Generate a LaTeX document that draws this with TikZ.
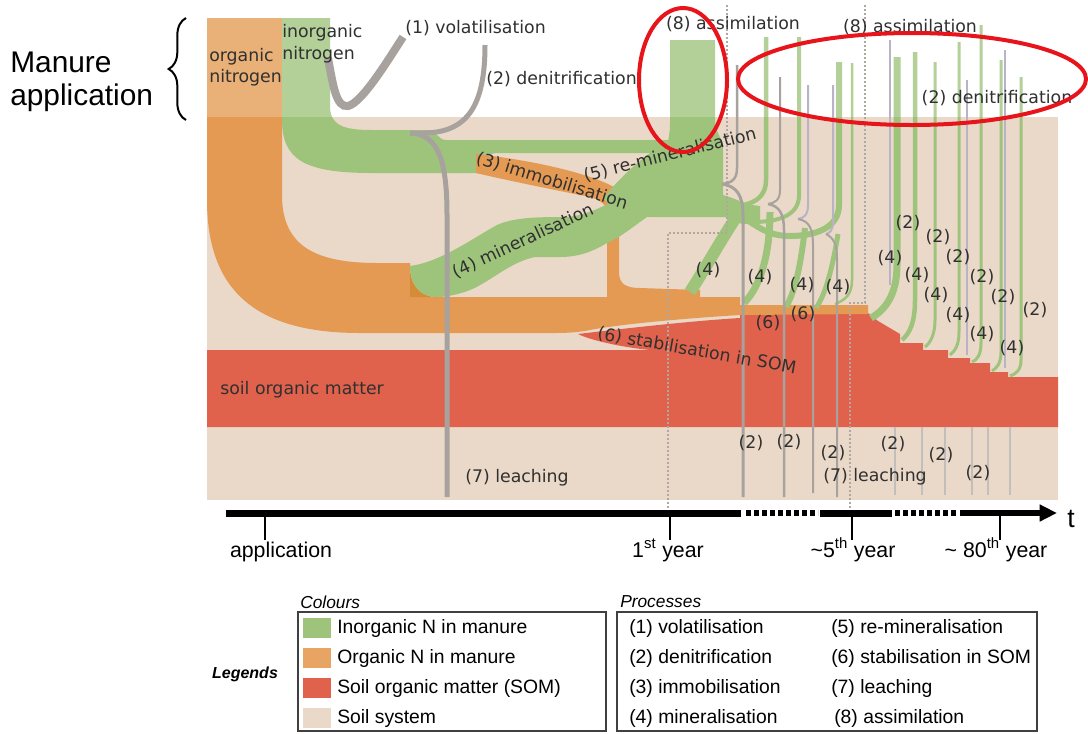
\documentclass[tikz,border=0pt]{standalone}
\usepackage{fontspec}
\newfontfamily\djv{DejaVu Sans}
\newfontfamily\arl{Liberation Sans}
\usetikzlibrary{arrows.meta,decorations.pathreplacing}
\definecolor{soil}{HTML}{EAD9C8}
\definecolor{grn}{HTML}{9EC47C}
\definecolor{org}{HTML}{E49A52}
\definecolor{orgd}{HTML}{D68B36}
\definecolor{som}{HTML}{E0624C}
\definecolor{gln}{HTML}{A8A29E}
\definecolor{lav}{HTML}{B9B3C6}
\definecolor{txt}{HTML}{303030}
\definecolor{ell}{HTML}{E8141C}
\definecolor{dotc}{HTML}{B0A8A0}
\newcommand\lblfont{\djv\fontsize{13}{15}\selectfont}
\newcommand\lgfont{\arl\fontsize{14.5}{17}\selectfont}
\begin{document}
\begin{tikzpicture}[x=0.75pt,y=-0.75pt,
  lw/.style={line width=#1*0.75pt},
  lbl/.style={font=\lblfont, text=txt, inner sep=0pt},
  gs/.style={draw=grn, line cap=butt},
  gl/.style={draw=gln, line cap=butt},
  thn/.style={draw=lav, lw=2},
  faint/.style={draw=gln!70, lw=1.3},
  dotl/.style={draw=dotc, lw=1.2, dash pattern=on 1.5pt off 1.5pt},
  lgt/.style={font=\lgfont, text=black, inner sep=0pt, anchor=west},
  tl/.style={font=\arl\fontsize{16}{18}\selectfont, inner sep=0pt, anchor=base},
]
\useasboundingbox (0,0) rectangle (1088,733);
\fill[white] (0,0) rectangle (1088,733);
\fill[soil] (207,117) rectangle (1058,500);

% soil organic matter
\fill[som] (207,350) -- (650,350) .. controls (620,347) and (590,340) .. (578,334)
  .. controls (620,329) and (690,321) .. (740,318) -- (740,313) -- (868,313) -- (878,321) -- (900,334)
  -- (900,343) -- (923,343) -- (923,350) -- (948,350) -- (948,358) -- (970,358) -- (970,363)
  -- (990,363) -- (990,372) -- (1008,372) -- (1008,377) -- (1058,377) -- (1058,427) -- (207,427) -- cycle;

% organic N
\fill[org] (207,18) -- (282,18) -- (282,195) .. controls (282,248) and (318,263) .. (378,263) -- (410,263)
  -- (410,297) -- (740,297) -- (740,305) -- (868,305) -- (868,314) -- (740,315)
  .. controls (690,318) and (620,324) .. (590,330) .. controls (580,332) and (570,333) .. (555,333)
  -- (360,333) .. controls (255,333) and (207,290) .. (207,200) -- cycle;

% inorganic N
\fill[grn] (282,18) -- (330,18) -- (330,108) .. controls (331,126) and (345,130) .. (372,130) -- (428,130)
  .. controls (436,130) and (438,140) .. (446,140) -- (672,140) -- (672,153) -- (500,153)
  .. controls (490,153) and (482,156) .. (478,160) -- (478,173) -- (372,173)
  .. controls (305,173) and (282,160) .. (282,120) -- cycle;

% immobilisation
\fill[org] (476,154) .. controls (530,160) and (585,172) .. (612,186) .. controls (617,189) and (619,194) .. (619,202)
  -- (619,272) .. controls (619,284) and (626,288) .. (640,288) -- (700,290) -- (700,299) -- (607,299)
  -- (607,212) .. controls (607,205) and (600,200) .. (590,197) .. controls (555,190) and (510,181) .. (476,173) -- cycle;

% mineralisation
\fill[orgd] (410,263) -- (410,297) -- (437,297) .. controls (420,297) and (410,285) .. (410,266) -- cycle;
\fill[grn] (410,266) .. controls (440,262) and (470,240) .. (497,225) .. controls (515,217) and (540,217) .. (567,217)
  .. controls (590,215) and (620,200) .. (645,180) -- (650,215) .. controls (635,225) and (620,238) .. (607,243)
  .. controls (592,252) and (578,257) .. (560,257) -- (535,257) .. controls (510,262) and (490,282) .. (470,290)
  .. controls (455,296) and (442,297) .. (437,297) .. controls (420,297) and (410,285) .. (410,266) -- cycle;

% junction and assimilation column
\fill[grn] (603,198) .. controls (625,172) and (648,152) .. (668,142) .. controls (670,130) .. (670,118)
  -- (670,40) -- (715,40) -- (715,122) .. controls (716,134) and (723,138) .. (723,150) -- (723,195)
  .. controls (735,198) and (745,205) .. (760,206) -- (760,222) .. controls (745,222) and (735,218) .. (723,217)
  -- (650,217) .. controls (635,217) and (622,214) .. (612,208) -- cycle;

% stems of the first years
\draw[gs, lw=4.5] (766,37) -- (766,180) .. controls (766,200) and (750,207) .. (722,207);
\draw[gs, lw=4] (799,37) -- (799,195) .. controls (799,215) and (780,222) .. (752,222) .. controls (738,222) .. (725,212);
\draw[gs, lw=6] (839,62) -- (839,205) .. controls (839,228) and (815,236) .. (790,236) .. controls (770,236) and (760,228) .. (750,222);
\draw[gs, lw=2.5] (852,63) -- (852,280) .. controls (852,295) and (845,300) .. (835,304);
% (4) branches
\draw[gs, lw=12] (738,214) .. controls (718,245) and (703,272) .. (690,292);
\draw[gs, lw=7] (770,212) .. controls (770,250) and (762,285) .. (744,303);
\draw[gs, lw=6] (805,228) .. controls (801,262) and (796,290) .. (786,307);
\draw[gs, lw=5] (838,234) .. controls (833,265) and (826,294) .. (816,308);

% stems of the later years
\draw[gs, lw=7] (897,57) -- (897,265) .. controls (897,295) and (885,310) .. (871,318);
\draw[gs, lw=4.5] (915,52) -- (915,300) .. controls (915,322) and (910,333) .. (902,340);
\draw[gs, lw=3] (935,62) -- (935,320) .. controls (935,335) and (930,343) .. (925,347);
\draw[gs, lw=3] (959,42) -- (959,332) .. controls (959,345) and (955,351) .. (950,355);
\draw[gs, lw=3] (981,25) -- (981,343) .. controls (981,355) and (977,360) .. (972,362);
\draw[gs, lw=3] (1001,60) -- (1001,352) .. controls (1001,363) and (997,368) .. (992,371);
\draw[gs, lw=3] (1021,77) -- (1021,360) .. controls (1021,370) and (1016,374) .. (1010,376);

% lighten what lies above the soil
\begin{scope}
\clip (0,0) rectangle (1088,117);
\fill[white, opacity=0.22] (200,0) rectangle (1060,117);
\end{scope}

% dotted year limits
\draw[dotl] (727,5) -- (727,233) -- (668,233) -- (668,513);
\draw[dotl] (865,5) -- (865,303) -- (850,303) -- (850,513);

% grey process lines
\draw[gl, lw=8] (328,58) .. controls (333,85) and (336,108) .. (348,106) .. controls (362,103) and (388,60) .. (403,37);
\draw[gl, lw=5] (485,45) .. controls (485,105) and (468,132) .. (425,133) -- (410,133);
\draw[gl, lw=5] (410,133) .. controls (438,134) and (447,160) .. (447,215) -- (447,497);
\draw[gl, lw=2.5] (737,65) -- (737,168) .. controls (737,180) and (731,183) .. (722,184);
\draw[gl, lw=3] (722,184) .. controls (737,186) and (743,196) .. (743,215) -- (743,497);
\draw[gl, lw=2] (780,77) -- (780,190) .. controls (780,200) and (775,203) .. (768,204);
\draw[gl, lw=2.5] (768,204) .. controls (780,206) and (784,215) .. (784,230) -- (784,497);
\draw[thn] (808,85) -- (808,205) .. controls (808,215) and (804,218) .. (798,219);
\draw[gl, lw=2] (798,219) .. controls (810,221) and (813,230) .. (813,245) -- (813,493);
\draw[thn] (833,85) -- (833,222) .. controls (833,230) and (830,233) .. (826,234);
\draw[gl, lw=2] (826,234) .. controls (834,238) and (837,245) .. (837,258) -- (837,497);
\draw[thn] (890,40) -- (890,285);
\draw[thn] (967,80) -- (967,355);
\draw[thn] (1005,50) -- (1005,368);
\foreach \xx in {895,922,945,972,988,1010} \draw[faint] (\xx,427) -- (\xx,495);

% labels in the diagram
\node[lbl, anchor=west] (t1) at (209,57) {organic};
\node[lbl, anchor=west] (t2) at (209,78) {nitrogen};
\node[lbl, anchor=west] (t3) at (282,33) {inorganic};
\node[lbl, anchor=west] (t4) at (282,55) {nitrogen};
\node[lbl, anchor=west] (t5) at (405,28) {(1) volatilisation};
\node[lbl, anchor=west] (t6) at (486,79) {(2) denitrification};
\node[lbl, rotate=-17] (t7) at (552,181) {(3) immobilisation};
\node[lbl, rotate=14] (t8) at (670,155) {(5) re-mineralisation};
\node[lbl, rotate=25] (t9) at (523,241) {(4) mineralisation};
\node[lbl] (t10) at (733,24) {(8) assimilation};
\node[lbl] (t11) at (910,27) {(8) assimilation};
\node[lbl] (t12) at (997,98) {(2) denitrification};
\node[lbl, rotate=-10] (t13) at (697,351) {(6) stabilisation in SOM};
\node[lbl, anchor=west] (t14) at (220,390) {soil organic matter};
\node[lbl] (t15) at (517,478) {(7) leaching};
\node[lbl] (t16) at (875,477) {(7) leaching};
\foreach \xx/\yy [count=\i] in {708/270,760/277,802/285,838/287,890/258,917/275,936/295,958/315,982/334,1012/348}
  \node[lbl] (f\i) at (\xx,\yy) {(4)};
\foreach \xx/\yy [count=\i] in {768/323,803/314}
  \node[lbl] (s\i) at (\xx,\yy) {(6)};
\foreach \xx/\yy [count=\i] in {908/223,938/237,958/257,982/277,1003/297,1035/310,751/443,789/442,833/453,893/444,941/455,978/473}
  \node[lbl] (d\i) at (\xx,\yy) {(2)};

% time axis
\draw[lw=7] (226,513) -- (741,513);
\draw[lw=6, dash pattern=on 3.5pt off 2.5pt] (746,513) -- (818,513);
\draw[lw=7] (820,513) -- (892,513);
\draw[lw=6, dash pattern=on 3.5pt off 2.5pt] (895,513) -- (958,513);
\draw[lw=6, -{Triangle[length=13pt,width=12pt]}] (960,513) -- (1057,513);
\foreach \xx [count=\i] in {265,670,852,1000} \draw[lw=2.5] (\xx,513) -- (\xx,540);
\node[font=\arl\fontsize{20}{22}\selectfont, inner sep=0pt] (tt) at (1071,519) {t};
\node[tl] (a1) at (281,557) {application};
\node[tl] (a2) at (668,557) {1\textsuperscript{st} year};
\node[tl] (a3) at (853,557) {\textasciitilde5\textsuperscript{th} year};
\node[tl] (a4) at (996,557) {\textasciitilde{} 80\textsuperscript{th} year};

% legend
\node[font=\arl\itshape\fontsize{13}{15}\selectfont, anchor=west, inner sep=0pt] (c0) at (300,602) {Colours};
\node[font=\arl\itshape\fontsize{13}{15}\selectfont, anchor=west, inner sep=0pt] (p0) at (620,602) {Processes};
\node[font=\arl\bfseries\itshape\fontsize{12}{14}\selectfont, inner sep=0pt] (lg) at (245,674) {Legends};
\draw[draw=black!75, lw=1.2] (298,612) rectangle (606,731);
\draw[draw=black!75, lw=1.2] (617,612) rectangle (1037,731);
\fill[grn] (303,618) rectangle (331,638);
\fill[org!90] (303,648) rectangle (331,668);
\fill[som] (303,678) rectangle (331,698);
\fill[soil] (303,708) rectangle (331,728);
\node[lgt] (c1) at (337,628) {Inorganic N in manure};
\node[lgt] (c2) at (337,658) {Organic N in manure};
\node[lgt] (c3) at (337,688) {Soil organic matter (SOM)};
\node[lgt] (c4) at (337,718) {Soil system};
\node[lgt] (p1) at (629,628) {(1) volatilisation};
\node[lgt] (p2) at (629,658) {(2) denitrification};
\node[lgt] (p3) at (629,688) {(3) immobilisation};
\node[lgt] (p4) at (629,718) {(4) mineralisation};
\node[lgt] (p5) at (831,628) {(5) re-mineralisation};
\node[lgt] (p6) at (831,658) {(6) stabilisation in SOM};
\node[lgt] (p7) at (831,688) {(7) leaching};
\node[lgt] (p8) at (834,718) {(8) assimilation};

% manure application
\node[font=\arl\fontsize{22.4}{26}\selectfont, anchor=base west, inner sep=0pt] (m1) at (10,72) {Manure};
\node[font=\arl\fontsize{22.4}{26}\selectfont, anchor=base west, inner sep=0pt] (m2) at (10,105) {application};
\draw[lw=2, decorate, decoration={brace, amplitude=13pt}] (186,120) -- (186,18);

% highlights
\draw[draw=ell, lw=4] (683,80) ellipse [x radius=44, y radius=72];
\draw[draw=ell, lw=4] (912,79) ellipse [x radius=174, y radius=46];
\end{tikzpicture}
\end{document}
